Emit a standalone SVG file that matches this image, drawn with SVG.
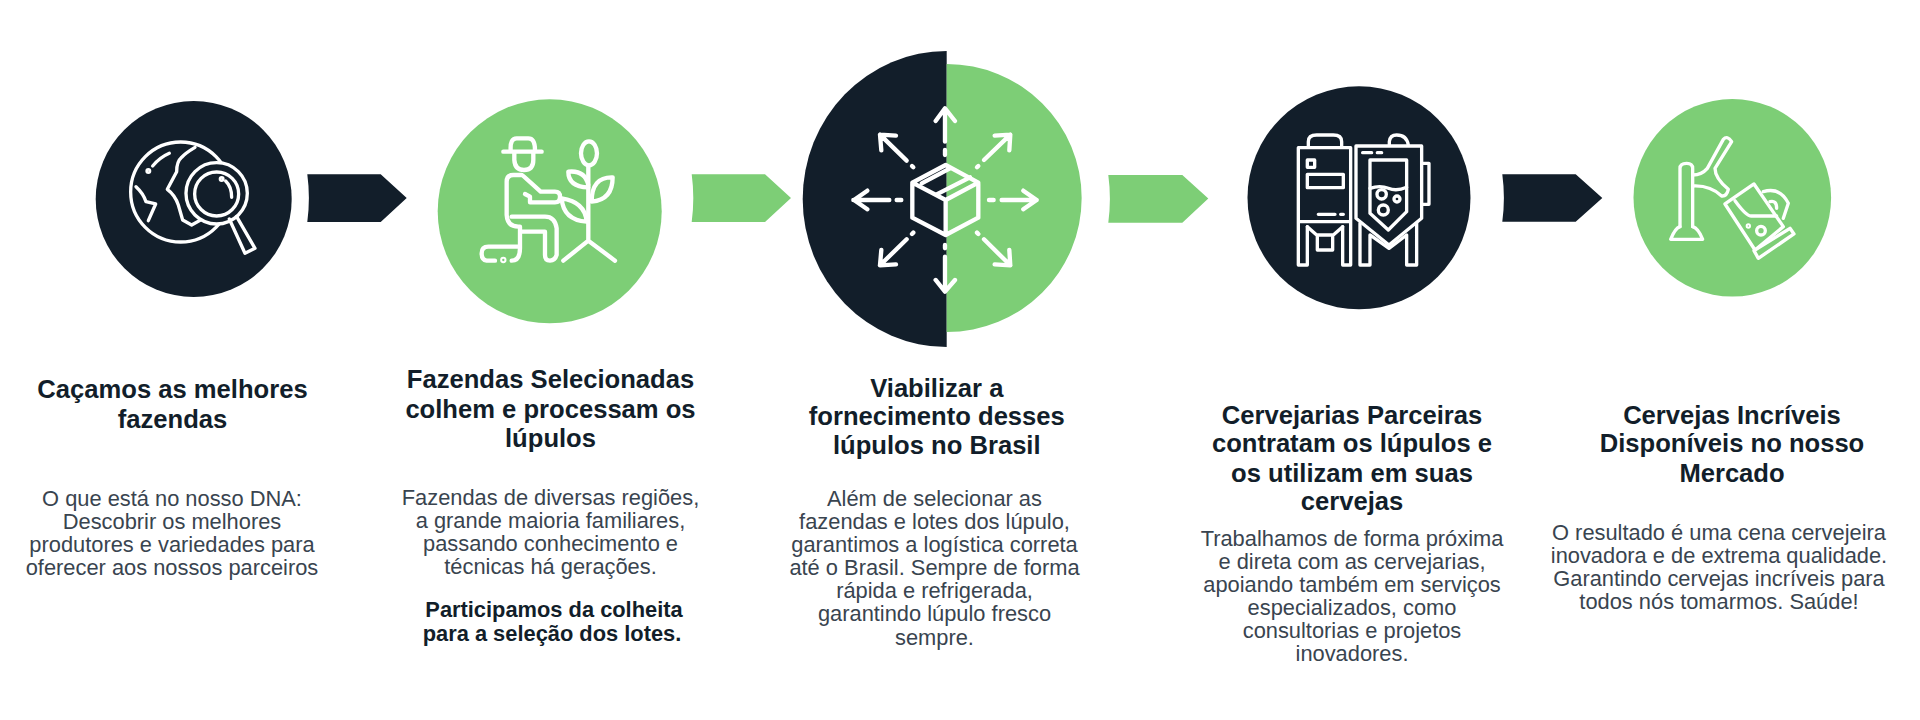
<svg xmlns="http://www.w3.org/2000/svg" width="1920" height="720" viewBox="0 0 1920 720">
<style>
.d{fill:#121e2a}.g{fill:#7dce76}
.i{fill:none;stroke:#fff;stroke-width:10;stroke-linecap:round;stroke-linejoin:round}
.t{stroke-width:13}
.h{font:bold 25.6px "Liberation Sans",Arial,sans-serif;fill:#121e2a;text-anchor:middle}
.b{font:21.85px "Liberation Sans",Arial,sans-serif;fill:#39444f;text-anchor:middle}
.s{font:bold 21.85px "Liberation Sans",Arial,sans-serif;fill:#121e2a;text-anchor:middle}
</style>
<rect width="1920" height="720" fill="#fff"/>
<g id="connectors">
<path class="d" d="M307.3 174.3H380.7L406.7 198L380.7 222H307.3Q310.5 198 307.3 174.3Z"/>
<path class="g" d="M691.7 174.3H765L791 198L765 222H691.7Q694.9 198 691.7 174.3Z"/>
<path class="g" d="M1108.3 175H1182.3L1208.3 198.5L1182.3 222.7H1108.3Q1111.5 198.5 1108.3 175Z"/>
<path class="d" d="M1502.3 174.3H1575.7L1602.3 198L1575.7 221.7H1502.3Q1505.5 198 1502.3 174.3Z"/>
</g>
<g id="node1">
<circle class="d" cx="193.7" cy="199" r="98"/>
<g transform="translate(60 70) scale(.3333)" class="i">
<circle cx="362" cy="366" r="150"/>
<path d="M405 232Q375 250 365 262Q350 275 350 305L322 358Q345 375 355 405L368 450L395 465L440 440"/>
<path d="M228 350Q250 370 258 395L287 402L265 452"/>
<path d="M278 288Q300 262 328 250"/>
<circle cx="265" cy="303" r="4"/>
<circle cx="470" cy="370" r="92" fill="#121e2a"/>
<circle cx="470" cy="372" r="66"/>
<path d="M497 333Q515 350 515 382"/>
<circle cx="485" cy="327" r="4"/>
<path d="M508 447L555 550L585 535L530 440"/>
</g>
</g>
<g id="node2">
<circle class="g" cx="549.7" cy="211.3" r="112"/>
<g transform="translate(420 70) scale(.3333)" class="i t">
<path d="M272 240Q270 205 290 205H325Q345 205 345 240M250 245H365M283 250V270Q285 300 312 300Q340 300 340 270V250"/>
<path d="M305 315H280Q260 315 260 335V435Q262 470 295 470H300V535Q300 572 275 572"/>
<path d="M310 318L362 365H405Q420 365 420 380Q420 397 405 397H330V380L315 372"/>
<path d="M275 440H375Q405 440 410 475V555Q405 572 390 572Q375 572 375 555V485H305"/>
<path d="M225 572H200Q185 570 185 550Q185 530 205 530H295"/>
<circle cx="250" cy="570" r="3"/>
<ellipse cx="507" cy="250" rx="24" ry="36"/>
<path d="M505 290V512M430 572L505 512L585 572"/>
<path d="M505 345Q495 300 445 305Q445 350 505 352"/>
<path d="M515 395Q578 390 578 322Q515 320 515 395"/>
<path d="M500 455Q495 395 425 385Q430 450 500 455"/>
</g>
</g>
<g id="node3">
<path class="d" d="M946.7 51A144 148 0 0 0 946.7 347Z"/>
<path class="g" d="M946.7 64A135 134 0 0 1 946.7 332Z"/>
<g transform="translate(790 40) scale(.3333)" class="i t">
<path d="M467 375L565 428V533L467 585L367 533V428ZM367 428L467 480L565 428M467 480V585"/>
<path d="M395 430L480 385M440 463L540 412"/>
<path d="M465 205V305M437 243L465 205L495 243M465 330V345M465 615V625M465 650V752M437 720L465 755L495 720"/>
<path d="M190 480H298M232 452L192 480L232 508M320 480H334M740 480H635M700 452L740 480L700 508M597 480H611"/>
<path d="M270 284L350 362M318 287L270 284L274 331M366 378L370 382M661 284L582 360M614 287L661 284L658 331M565 378L561 382"/>
<path d="M270 676L350 598M318 673L270 676L274 630M366 582L370 578M661 676L582 598M614 673L661 676L658 630M565 582L561 578"/>
</g>
</g>
<g id="node4">
<circle class="d" cx="1359" cy="197.8" r="111.5"/>
<g transform="translate(1230 80) scale(.3333)" class="i">
<path d="M235 200V185Q235 165 260 165H310Q335 165 335 185V200"/>
<path d="M205 203H362V555H338V440M205 203V555H232V440M205 425H362"/>
<rect x="232" y="240" width="22" height="22"/>
<rect x="232" y="283" width="108" height="40"/>
<path d="M265 403H315M332 403H340"/>
<path d="M232 440L260 465H310L338 440"/>
<path d="M262 470V510H308V470"/>
<path d="M378 198H575V415L477 495L378 415Z"/>
<path d="M398 218H425M442 218H455"/>
<path d="M420 240H530V395L475 450L420 400Z"/>
<path d="M420 325Q450 315 475 325T530 322"/>
<circle cx="455" cy="343" r="14"/>
<circle cx="501" cy="357" r="9"/>
<circle cx="460" cy="390" r="15"/>
<path d="M575 250H597V373H575"/>
<path d="M478 195V185Q480 165 500 165Q530 165 535 195"/>
<path d="M390 430V555H420V465L477 505L530 465V555H560V430"/>
</g>
</g>
<g id="node5">
<circle class="g" cx="1732.3" cy="197.8" r="98.8"/>
<g transform="translate(1620 80) scale(.3333)" class="i">
<path d="M180 440V265Q180 250 200 250Q218 250 218 265V440"/>
<path d="M180 440Q165 445 152 478H248Q235 445 218 440"/>
<path d="M218 285Q245 285 262 265L310 178Q322 165 335 185L285 265Q285 295 325 328Q320 350 305 348Q270 315 218 318"/>
<path d="M315 372L402 312L490 440L405 510Z"/>
<path d="M402 512L510 445L522 462L415 535Z"/>
<path d="M345 362Q380 410 395 408H470"/>
<path d="M430 335Q480 320 505 370L490 415M450 365Q470 360 470 385"/>
<circle cx="423" cy="452" r="13"/>
<circle cx="385" cy="438" r="3"/>
</g>
</g>
<g id="text1">
<text class="h" x="172.5" y="398">Caçamos as melhores</text>
<text class="h" x="172.5" y="428">fazendas</text>
<text class="b" x="172" y="506">O que está no nosso DNA:</text>
<text class="b" x="172" y="529">Descobrir os melhores</text>
<text class="b" x="172" y="552">produtores e variedades para</text>
<text class="b" x="172" y="575">oferecer aos nossos parceiros</text>
</g>
<g id="text2">
<text class="h" x="550.5" y="388">Fazendas Selecionadas</text>
<text class="h" x="550.5" y="418">colhem e processam os</text>
<text class="h" x="550.5" y="447">lúpulos</text>
<text class="b" x="550.5" y="505">Fazendas de diversas regiões,</text>
<text class="b" x="550.5" y="528">a grande maioria familiares,</text>
<text class="b" x="550.5" y="551">passando conhecimento e</text>
<text class="b" x="550.5" y="574">técnicas há gerações.</text>
<text class="s" x="554" y="617">Participamos da colheita</text>
<text class="s" x="552" y="641">para a seleção dos lotes.</text>
</g>
<g id="text3">
<text class="h" x="936.8" y="397">Viabilizar a</text>
<text class="h" x="936.8" y="425">fornecimento desses</text>
<text class="h" x="936.8" y="454">lúpulos no Brasil</text>
<text class="b" x="934.5" y="506">Além de selecionar as</text>
<text class="b" x="934.5" y="529">fazendas e lotes dos lúpulo,</text>
<text class="b" x="934.5" y="552">garantimos a logística correta</text>
<text class="b" x="934.5" y="575">até o Brasil. Sempre de forma</text>
<text class="b" x="934.5" y="598">rápida e refrigerada,</text>
<text class="b" x="934.5" y="621">garantindo lúpulo fresco</text>
<text class="b" x="934.5" y="645">sempre.</text>
</g>
<g id="text4">
<text class="h" x="1352" y="424">Cervejarias Parceiras</text>
<text class="h" x="1352" y="452">contratam os lúpulos e</text>
<text class="h" x="1352" y="482">os utilizam em suas</text>
<text class="h" x="1352" y="510">cervejas</text>
<text class="b" x="1352" y="546">Trabalhamos de forma próxima</text>
<text class="b" x="1352" y="569">e direta com as cervejarias,</text>
<text class="b" x="1352" y="592">apoiando também em serviços</text>
<text class="b" x="1352" y="615">especializados, como</text>
<text class="b" x="1352" y="638">consultorias e projetos</text>
<text class="b" x="1352" y="661">inovadores.</text>
</g>
<g id="text5">
<text class="h" x="1732" y="424">Cervejas Incríveis</text>
<text class="h" x="1732" y="452">Disponíveis no nosso</text>
<text class="h" x="1732" y="482">Mercado</text>
<text class="b" x="1719" y="540">O resultado é uma cena cervejeira</text>
<text class="b" x="1719" y="563">inovadora e de extrema qualidade.</text>
<text class="b" x="1719" y="586">Garantindo cervejas incríveis para</text>
<text class="b" x="1719" y="609">todos nós tomarmos. Saúde!</text>
</g>
</svg>
